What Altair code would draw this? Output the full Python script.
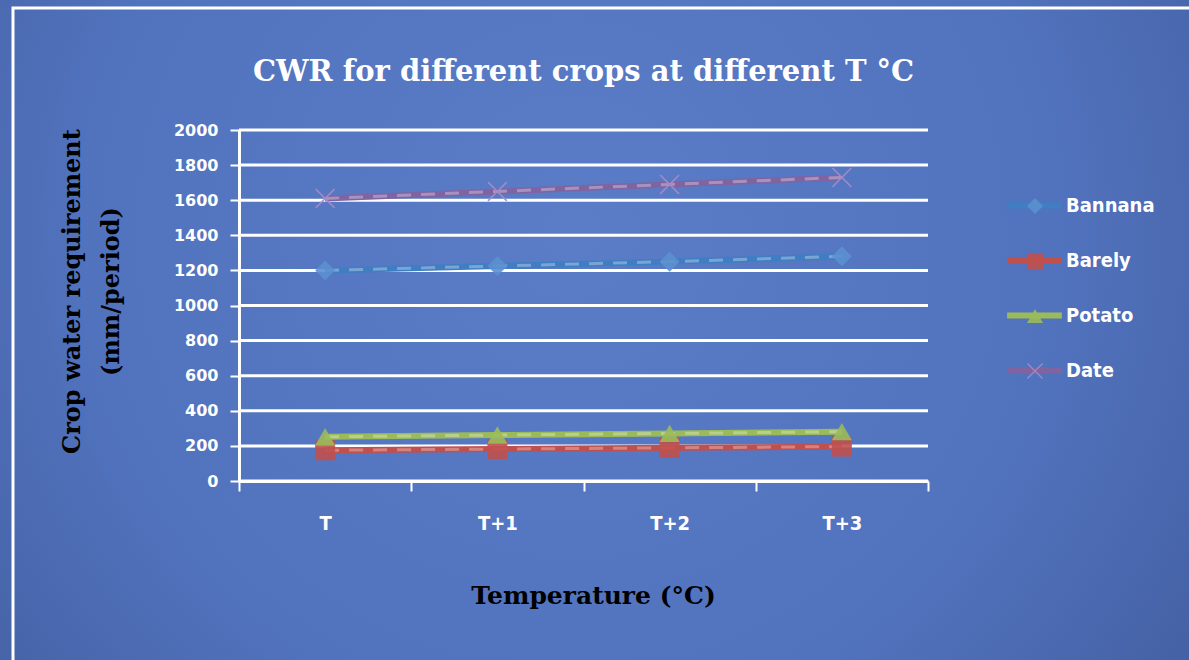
import altair as alt
import pandas as pd

# Crop water requirement (mm/period) under a warming scenario
periods = ["T", "T+1", "T+2", "T+3"]
crops = ["Bannana", "Barely", "Potato", "Date"]
bannana = [1200, 1225, 1250, 1280]
barely = [175, 182, 189, 196]
potato = [252, 262, 271, 281]
date = [1610, 1650, 1690, 1730]
y_ticks = list(range(0, 2001, 200))

line_colors = ["#3f7ec2", "#c0504d", "#9bbb59", "#8064a2"]
marker_colors = ["#5b90cf", "#c0504d", "#9bbb59", "#a48cc6"]

# thin "X" marker drawn as a filled outline so it can share the shape scale
x_marker = ("M-1,-0.88L-0.88,-1L0,-0.12L0.88,-1L1,-0.88L0.12,0L1,0.88"
            "L0.88,1L0,0.12L-0.88,1L-1,0.88L-0.12,0Z")
shapes = ["diamond", "square", "triangle-up", x_marker]

rows = []
for crop, vals in zip(crops, [bannana, barely, potato, date]):
    for p, v in zip(periods, vals):
        rows.append({"period": p, "crop": crop, "series": crop, "cwr": v})
df = pd.DataFrame(rows)
grid_df = pd.DataFrame({"cwr": y_ticks})

W, H = 689, 351
PAD = {"left": 239, "top": 130, "right": 1189 - 239 - W, "bottom": 660 - 130 - H}

sans = "DejaVu Sans"
cond = "DejaVu Sans Condensed"
serif = "DejaVu Serif"

x_enc = alt.X(
    "period:N",
    sort=periods,
    scale=alt.Scale(paddingInner=0, paddingOuter=0),
    axis=alt.Axis(
        title="Temperature (°C)",
        titleFont=serif, titleFontSize=25, titleFontWeight="bold", titleColor="black",
        titleX=354, titleY=122, titleAlign="center", titleBaseline="alphabetic",
        labelFont=cond, labelFontSize=20, labelFontWeight="bold", labelColor="white",
        labelAngle=0, labelPadding=22,
        tickBand="extent", tickSize=10, tickWidth=2, tickColor="white",
        domainColor="white", domainWidth=3, grid=False, zindex=1,
    ),
)
y_enc = alt.Y(
    "cwr:Q",
    scale=alt.Scale(domain=[0, 2000], nice=False),
    axis=alt.Axis(
        values=y_ticks, format="d",
        title=["Crop water requirement", "(mm/period)"],
        titleFont=serif, titleFontSize=24, titleFontWeight="bold", titleColor="black",
        titleAngle=270, titleX=-160, titleY=161, titleAlign="center",
        titleBaseline="alphabetic", titleLineHeight=39,
        labelFont=sans, labelFontSize=16, labelFontWeight="bold", labelColor="white",
        labelPadding=12, tickSize=9, tickWidth=2, tickColor="white",
        domainColor="white", domainWidth=3, grid=False, zindex=1,
    ),
)

frame_data = alt.Data(values=[{"k": 1}])

backdrop = alt.Chart(frame_data).mark_rect(
    fill=alt.RadialGradient(
        gradient="radial",
        x1=0.48, y1=0.42, r1=0, x2=0.48, y2=0.42, r2=0.75,
        stops=[
            alt.GradientStop(offset=0, color="#5b7cc7"),
            alt.GradientStop(offset=0.55, color="#5172bd"),
            alt.GradientStop(offset=1, color="#3e5897"),
        ],
    )
).encode(
    x=alt.value(-PAD["left"]), x2=alt.value(W + PAD["right"]),
    y=alt.value(-PAD["top"]), y2=alt.value(H + PAD["bottom"]),
)

border = alt.Chart(frame_data).mark_rect(
    fill=None, stroke="white", strokeWidth=3
).encode(
    x=alt.value(13 - PAD["left"]), x2=alt.value(W + PAD["right"] + 20),
    y=alt.value(8 - PAD["top"]), y2=alt.value(H + PAD["bottom"] + 20),
)

title = alt.Chart(frame_data).mark_text(
    text="CWR for different crops at different T °C",
    font=serif, fontSize=29, fontWeight="bold", color="white",
    align="center", baseline="alphabetic",
).encode(x=alt.value(W / 2), y=alt.value(81 - PAD["top"]))

gridlines = alt.Chart(grid_df).mark_rule(color="white", strokeWidth=3).encode(y=y_enc)

base = alt.Chart(df).encode(x=x_enc, y=y_enc)

# line legend carries the labels; the marker legend sits on top of it
lines = base.mark_line(strokeWidth=6).encode(
    stroke=alt.Stroke(
        "crop:N",
        sort=crops,
        scale=alt.Scale(range=line_colors),
        legend=alt.Legend(
            title=None, orient="none", legendX=765, legendY=45,
            symbolType="stroke", symbolSize=3000, symbolStrokeWidth=6,
            labelFont=cond, labelFontSize=20, labelFontWeight="bold",
            labelColor="white", labelOffset=1, rowPadding=12,
        ),
    ),
)

sheen = base.mark_line(
    stroke="white", strokeWidth=3, strokeOpacity=0.3, strokeDash=[14, 10]
).encode(detail="crop:N")

marker_legend = alt.Legend(
    title=None, orient="none", legendX=786, legendY=66,
    symbolSize=260, labelExpr="''", labelOpacity=0, labelFontSize=20,
    labelFont=cond, rowPadding=35,
)
markers = base.mark_point(filled=True, size=400, opacity=0.9).encode(
    color=alt.Color(
        "series:N",
        scale=alt.Scale(domain=crops, range=marker_colors),
        legend=marker_legend,
    ),
    shape=alt.Shape(
        "series:N",
        scale=alt.Scale(domain=crops, range=shapes),
        legend=marker_legend,
    ),
)

chart = alt.layer(backdrop, border, title, gridlines, lines, sheen, markers).properties(
    width=W, height=H,
    autosize=alt.AutoSizeParams(type="none"),
    padding=PAD,
    background="#4a67ad",
).configure_view(stroke=None)

chart.save("out.html", embed_options={"renderer": "svg", "actions": False})
